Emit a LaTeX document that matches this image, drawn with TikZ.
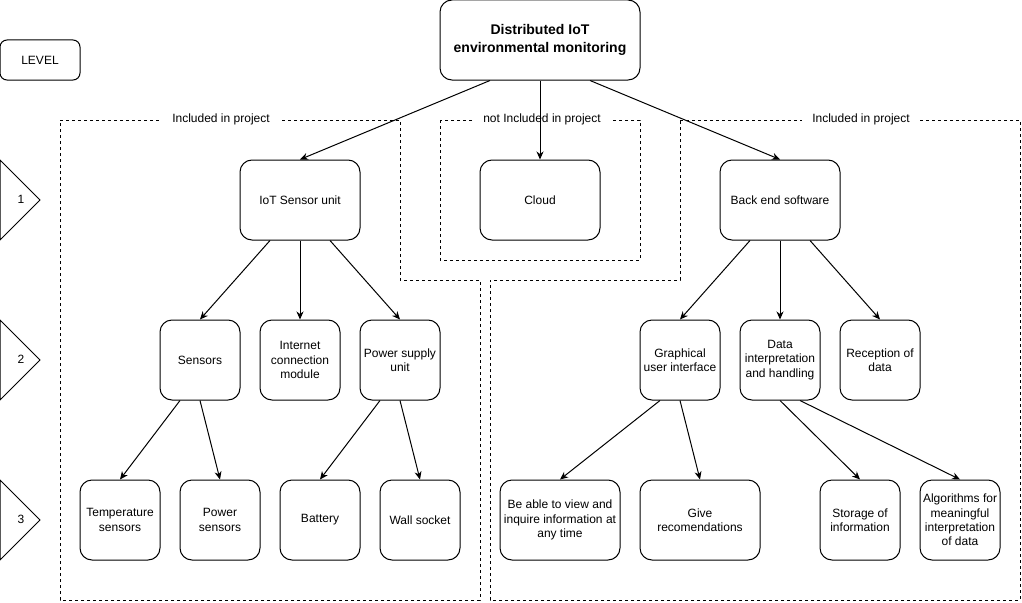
\documentclass[tikz,border=0pt]{standalone}
\usepackage{fontspec}
\setmainfont{Liberation Sans}
\usetikzlibrary{arrows.meta}
\begin{document}
\begin{tikzpicture}[x=1pt,y=-1pt,
  every node/.style={font=\fontsize{12}{14.4}\selectfont},
  box/.style={draw, line width=1pt, rounded corners=12pt, align=center, inner sep=0pt, fill=white},
  b80/.style={box, minimum width=80pt, minimum height=80pt},
  b120/.style={box, minimum width=120pt, minimum height=80pt},
  region/.style={draw, line width=1pt, dash pattern=on 3pt off 3pt},
  rlabel/.style={fill=white, inner xsep=10pt, inner ysep=1pt},
  conn/.style={draw, line width=1pt, -{Stealth[length=8pt,width=7pt,inset=2.5pt]}},
  lvl/.style={draw, line width=1pt}
]
\useasboundingbox (0,0) rectangle (1022,602);

% dashed regions
\draw[region] (60,120) -- (400,120) -- (400,280) -- (480,280) -- (480,600) -- (60,600) -- cycle;
\draw[region] (440,120) rectangle (640,260);
\draw[region] (680,120) -- (1020,120) -- (1020,600) -- (490,600) -- (490,280) -- (680,280) -- cycle;
\node[rlabel] (lab1) at (221,119) {Included in project};
\node[rlabel] (lab2) at (542,119) {not Included in project};
\node[rlabel] (lab3) at (861,119) {Included in project};

% level markers
\node[box, rounded corners=7pt, minimum width=80pt, minimum height=40pt] (level) at (40,60) {LEVEL};
\draw[lvl] (0,160) -- (40,200) -- (0,240) -- cycle;
\draw[lvl] (0,320) -- (40,360) -- (0,400) -- cycle;
\draw[lvl] (0,480) -- (40,520) -- (0,560) -- cycle;
\node (l1) at (21,199) {1};
\node (l2) at (21,359) {2};
\node (l3) at (21,519) {3};

% nodes
\node[box, minimum width=200pt, minimum height=80pt, font=\fontsize{14}{18}\selectfont\bfseries] (top) at (540,40)
  {Distributed IoT\\environmental monitoring};
\node[b120] (iot) at (300,200) {IoT Sensor unit};
\node[b120] (cloud) at (540,200) {Cloud};
\node[b120] (be) at (780,200) {Back end software};

\node[b80] (sens) at (200,360) {Sensors};
\node[b80] (inet) at (300,360) {Internet\\connection\\module};
\node[b80] (psu) at (400,360) {Power supply\\unit};
\node[b80] (gui) at (680,360) {Graphical\\user interface};
\node[b80] (data) at (780,360) {Data\\interpretation\\and handling};
\node[b80] (rec) at (880,360) {Reception of\\data};

\node[b80] (temp) at (120,520) {Temperature\\sensors};
\node[b80] (psens) at (220,520) {Power\\sensors};
\node[b80] (bat) at (320,520) {Battery};
\node[b80] (wall) at (420,520) {Wall socket};
\node[b120] (view) at (560,520) {Be able to view and\\inquire information at\\any time};
\node[b120] (give) at (700,520) {Give\\recomendations};
\node[b80] (stor) at (860,520) {Storage of\\information};
\node[b80] (alg) at (960,520) {Algorithms for\\meaningful\\interpretation\\of data};

% connectors
\draw[conn] ([xshift=-50pt]top.south) -- (iot.north);
\draw[conn] (top.south) -- (cloud.north);
\draw[conn] ([xshift=50pt]top.south) -- (be.north);

\draw[conn] ([xshift=-30pt]iot.south) -- (sens.north);
\draw[conn] (iot.south) -- (inet.north);
\draw[conn] ([xshift=30pt]iot.south) -- (psu.north);

\draw[conn] ([xshift=-20pt]sens.south) -- (temp.north);
\draw[conn] (sens.south) -- (psens.north);
\draw[conn] ([xshift=-20pt]psu.south) -- (bat.north);
\draw[conn] (psu.south) -- (wall.north);

\draw[conn] ([xshift=-30pt]be.south) -- (gui.north);
\draw[conn] (be.south) -- (data.north);
\draw[conn] ([xshift=30pt]be.south) -- (rec.north);

\draw[conn] ([xshift=-20pt]gui.south) -- (view.north);
\draw[conn] (gui.south) -- (give.north);
\draw[conn] (data.south) -- (stor.north);
\draw[conn] ([xshift=20pt]data.south) -- (alg.north);
\end{tikzpicture}
\end{document}
